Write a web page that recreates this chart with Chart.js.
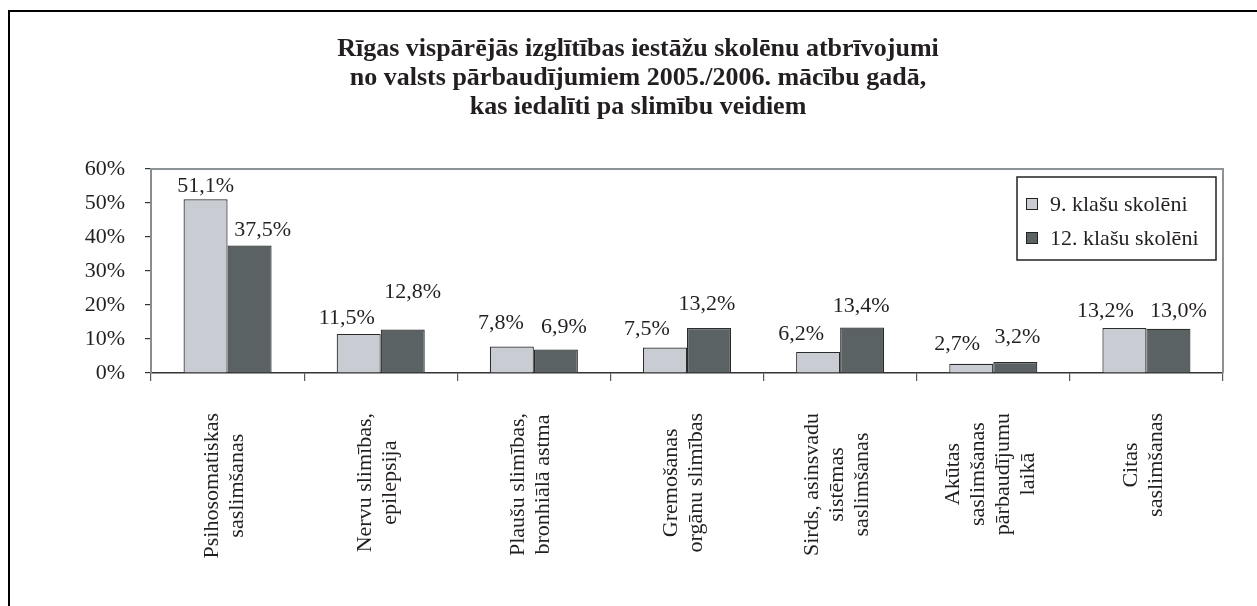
<!DOCTYPE html>
<html>
<head>
<meta charset="utf-8">
<script src="https://cdn.jsdelivr.net/npm/chart.js@4.4.0/dist/chart.umd.min.js"></script>
<style>
  html, body { margin: 0; padding: 0; background: #fff; }
  #wrap { position: relative; width: 1257px; height: 606px; }
</style>
</head>
<body>
<div id="wrap"><canvas id="myChart"></canvas></div>
<script>
// data
const titleLines = [
  'Rīgas vispārējās izglītības iestāžu skolēnu atbrīvojumi',
  'no valsts pārbaudījumiem 2005./2006. mācību gadā,',
  'kas iedalīti pa slimību veidiem'
];
const categories = [
  ['Psihosomatiskas', 'saslimšanas'],
  ['Nervu slimības,', 'epilepsija'],
  ['Plaušu slimības,', 'bronhiālā astma'],
  ['Gremošanas', 'orgānu slimības'],
  ['Sirds, asinsvadu', 'sistēmas', 'saslimšanas'],
  ['Akūtas', 'saslimšanas', 'pārbaudījumu', 'laikā'],
  ['Citas', 'saslimšanas']
];
const grade9 = [51.1, 11.5, 7.8, 7.5, 6.2, 2.7, 13.2];
const grade12 = [37.5, 12.8, 6.9, 13.2, 13.4, 3.2, 13.0];
const seriesNames = ['9. klašu skolēni', '12. klašu skolēni'];
const yTicks = [0, 10, 20, 30, 40, 50, 60];

const FONT = '"Liberation Serif", "Times New Roman", serif';
const INK = '#231f20';

// hand-placed value labels in the original: shift from bar centre / lift above bar top
const labelShift = [
  [[0, 7], [-12, 10], [-11, 17], [-18, 13], [-17, 12], [-14, 14], [-19, 11]],
  [[13, 10], [10, 31], [8, 17], [-2, 18], [-1, 15], [2, 19], [10, 12]]
];

const decor = {
  id: 'decor',
  beforeDraw(chart) {
    const ctx = chart.ctx;
    ctx.save();
    ctx.fillStyle = '#fff';
    ctx.fillRect(0, 0, chart.width, chart.height);
    // outer frame (top + left)
    ctx.strokeStyle = '#000';
    ctx.lineWidth = 2;
    ctx.beginPath();
    ctx.moveTo(9, chart.height);
    ctx.lineTo(9, 11);
    ctx.lineTo(chart.width, 11);
    ctx.stroke();
    // title
    ctx.fillStyle = INK;
    ctx.font = 'bold 26px ' + FONT;
    ctx.textAlign = 'center';
    ctx.textBaseline = 'alphabetic';
    titleLines.forEach((t, i) => ctx.fillText(t, 638, 56 + i * 29));
    ctx.restore();
  },
  afterDatasetsDraw(chart) {
    const ctx = chart.ctx;
    const a = chart.chartArea;
    ctx.save();
    // plot border top + right
    ctx.strokeStyle = '#8b9396';
    ctx.lineWidth = 2;
    ctx.beginPath();
    ctx.moveTo(a.left, a.top);
    ctx.lineTo(a.right, a.top);
    ctx.lineTo(a.right, a.bottom);
    ctx.stroke();

    // value labels
    ctx.fillStyle = INK;
    ctx.font = '22px ' + FONT;
    ctx.textAlign = 'center';
    ctx.textBaseline = 'alphabetic';
    chart.data.datasets.forEach((ds, di) => {
      const meta = chart.getDatasetMeta(di);
      meta.data.forEach((bar, i) => {
        const txt = ds.data[i].toFixed(1).replace('.', ',') + '%';
        const [dx, dy] = labelShift[di][i];
        ctx.fillText(txt, bar.x + dx, bar.y - dy);
      });
    });

    // category labels, rotated, lines centred in block
    const xs = chart.scales.x;
    const lineH = 25;
    categories.forEach((lines, i) => {
      const cx = xs.getPixelForTick(i);
      const maxW = Math.max(...lines.map(l => ctx.measureText(l).width));
      ctx.save();
      ctx.translate(cx - 3, a.bottom + 40 + maxW / 2);
      ctx.rotate(-Math.PI / 2);
      ctx.textBaseline = 'middle';
      lines.forEach((l, j) => {
        ctx.fillText(l, 0, (j - (lines.length - 1) / 2) * lineH);
      });
      ctx.restore();
    });

    // legend
    const lx = 1017, ly = 177, lw = 199, lh = 83;
    ctx.fillStyle = '#fff';
    ctx.fillRect(lx, ly, lw, lh);
    ctx.strokeStyle = '#222';
    ctx.lineWidth = 1.5;
    ctx.strokeRect(lx, ly, lw, lh);
    chart.data.datasets.forEach((ds, di) => {
      const cy = ly + 27 + di * 34;
      ctx.fillStyle = ds.backgroundColor;
      ctx.fillRect(lx + 9, cy - 6, 12, 12);
      ctx.strokeStyle = '#222';
      ctx.lineWidth = 1;
      ctx.strokeRect(lx + 9.5, cy - 5.5, 11, 11);
      ctx.fillStyle = INK;
      ctx.font = '22px ' + FONT;
      ctx.textAlign = 'left';
      ctx.textBaseline = 'middle';
      ctx.fillText(ds.label, lx + 33, cy + 1);
    });
    ctx.restore();
  }
};

new Chart(document.getElementById('myChart').getContext('2d'), {
  type: 'bar',
  data: {
    labels: categories,
    datasets: [
      {
        label: seriesNames[0],
        data: grade9,
        backgroundColor: '#c9ccd3',
        borderColor: '#2b2b2b',
        borderWidth: 1.2
      },
      {
        label: seriesNames[1],
        data: grade12,
        backgroundColor: '#5b6264',
        borderColor: '#2b2b2b',
        borderWidth: 1.2
      }
    ]
  },
  options: {
    responsive: true,
    maintainAspectRatio: false,
    animation: false,
    devicePixelRatio: 1,
    layout: { padding: { left: 0, top: 169, right: 34, bottom: 0 } },
    datasets: { bar: { categoryPercentage: 0.575, barPercentage: 1 } },
    plugins: {
      legend: { display: false },
      title: { display: false },
      tooltip: { enabled: false }
    },
    scales: {
      x: {
        ticks: { display: false },
        grid: {
          offset: true,
          drawOnChartArea: false,
          drawTicks: true,
          tickLength: 8,
          color: '#55595b',
          lineWidth: 1.2
        },
        border: { display: true, color: '#333', width: 1.5 },
        afterFit(scale) { scale.height = 233; }
      },
      y: {
        min: 0,
        max: 60,
        afterBuildTicks(scale) { scale.ticks = yTicks.map(v => ({ value: v })); },
        ticks: {
          padding: 20,
          color: INK,
          font: { family: FONT, size: 22 },
          callback: v => v + '%'
        },
        grid: {
          drawOnChartArea: false,
          drawTicks: true,
          tickLength: 6,
          color: '#333',
          lineWidth: 1.2
        },
        border: { display: true, color: '#868e91', width: 2 },
        afterFit(scale) { scale.width = 151; }
      }
    }
  },
  plugins: [decor]
});
</script>
</body>
</html>
